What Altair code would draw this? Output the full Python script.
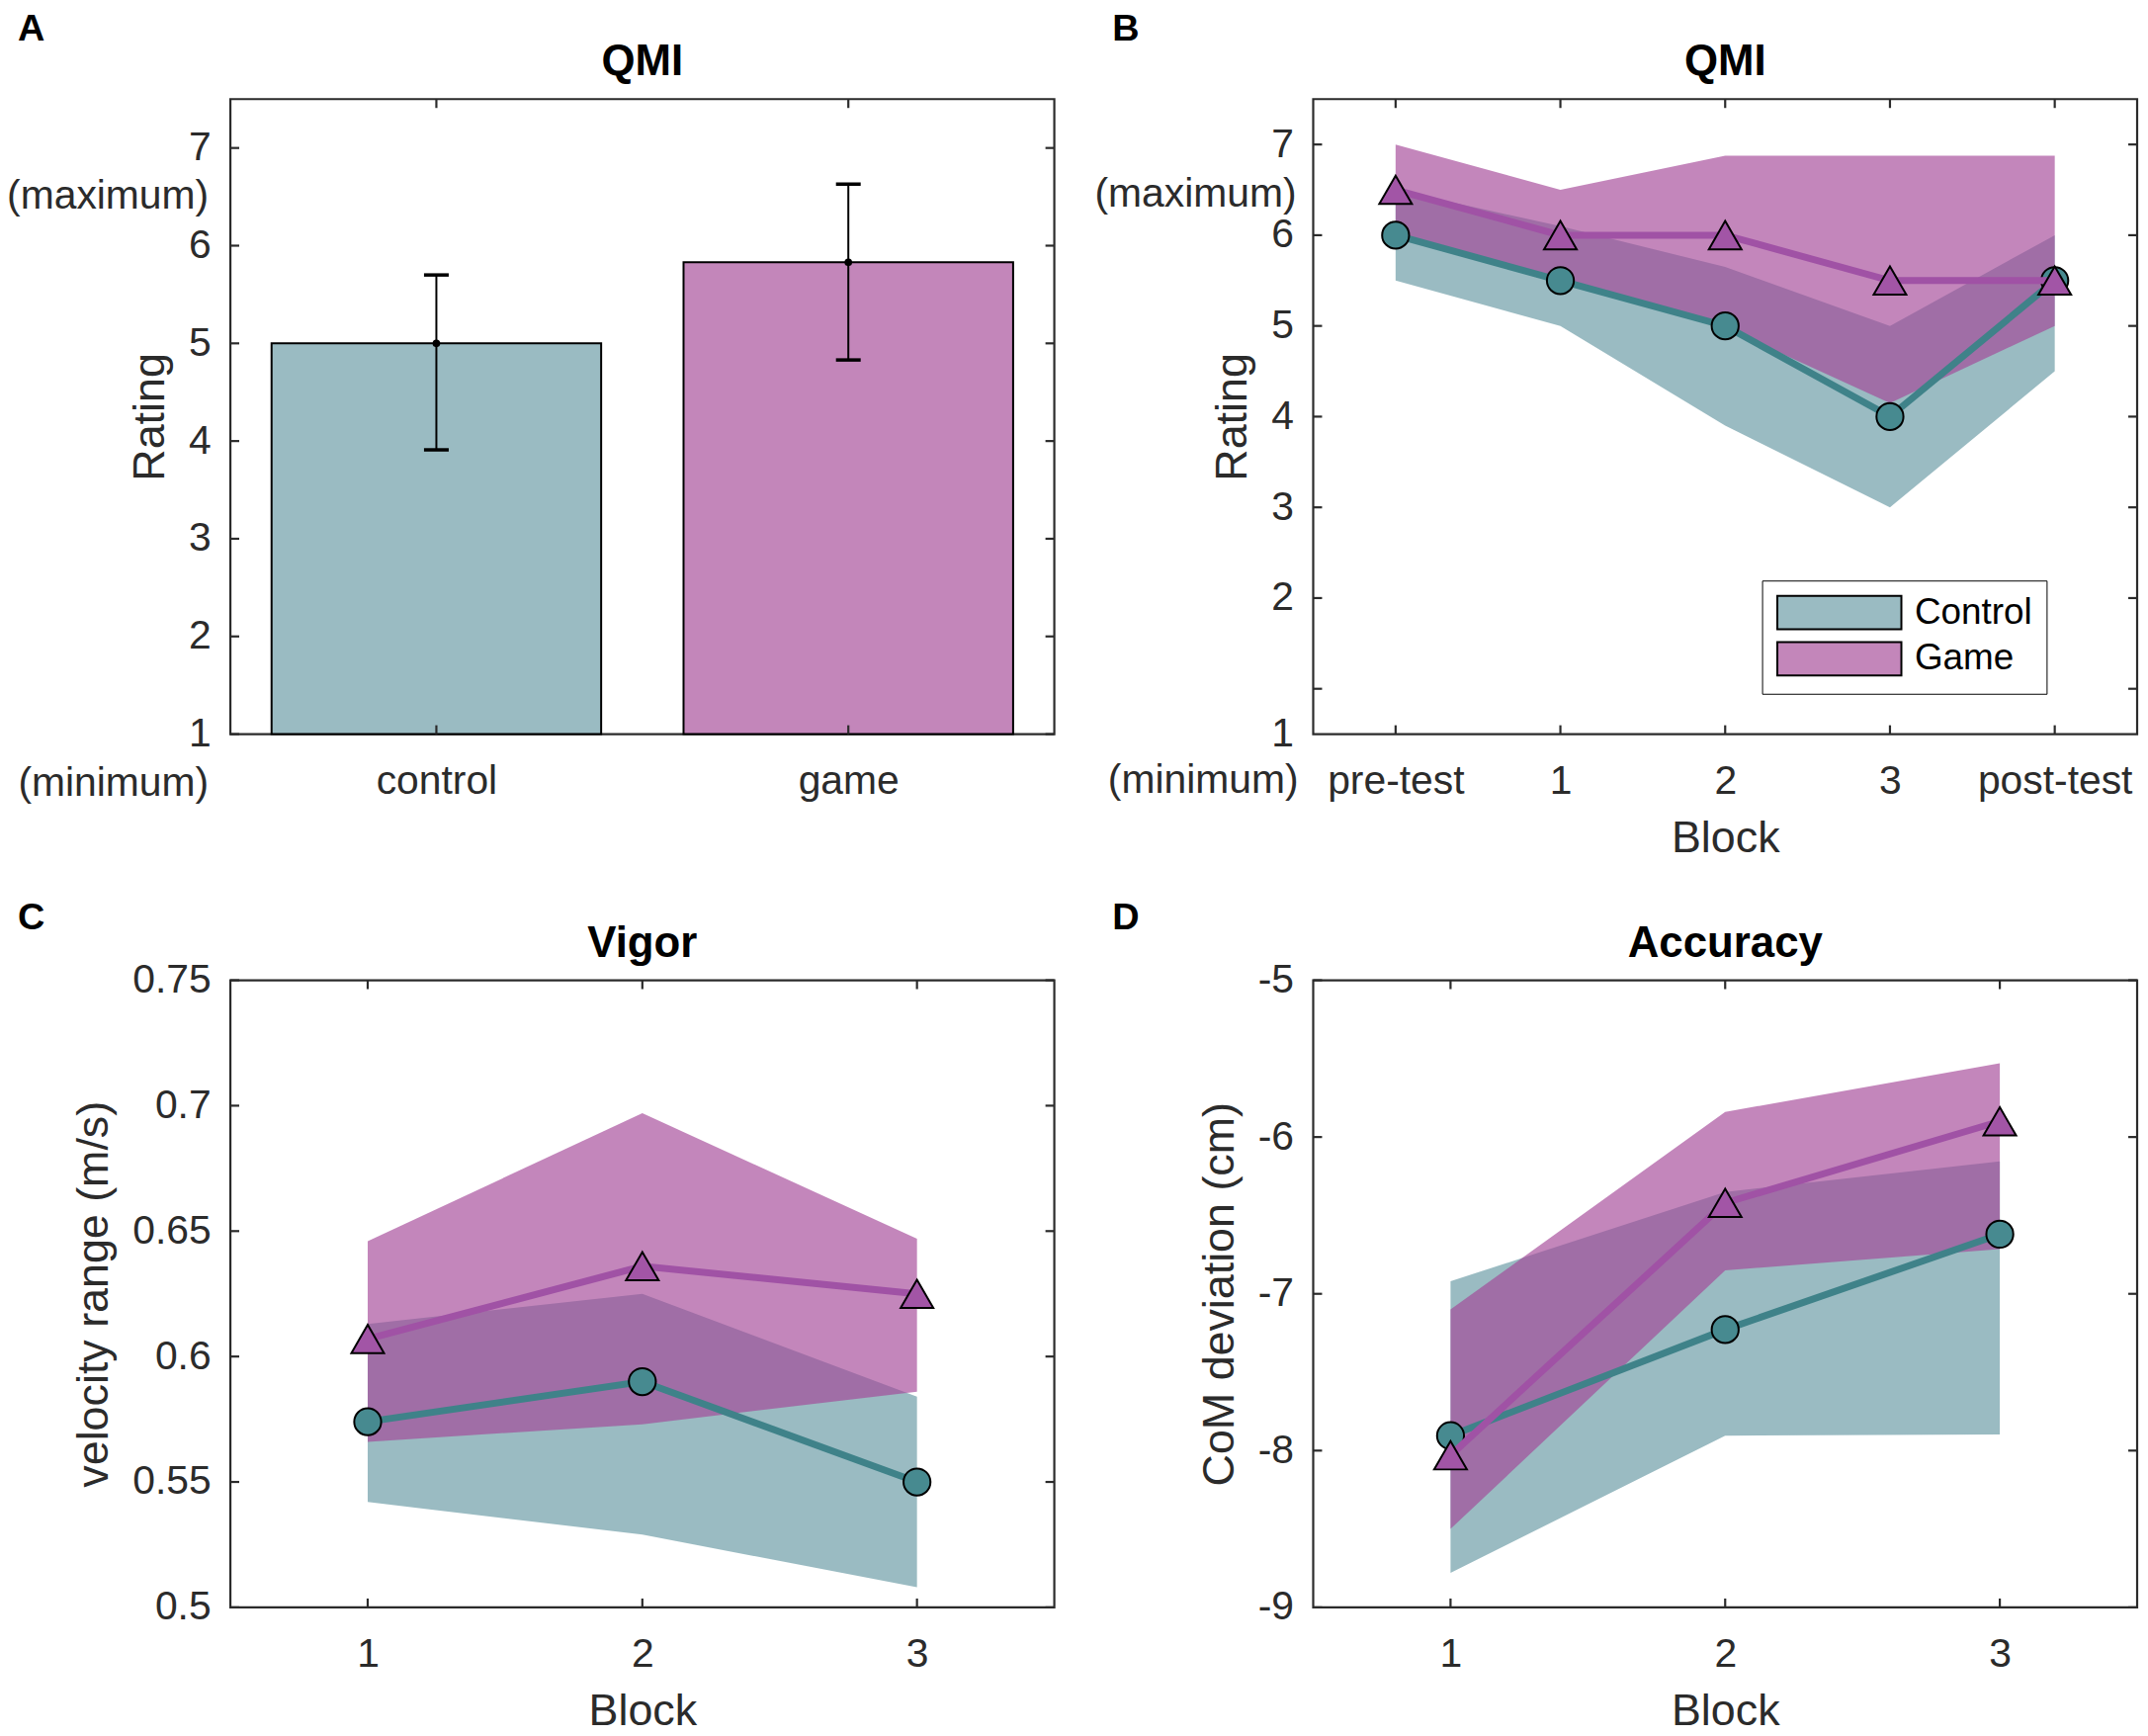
import json
import altair as alt
import pandas as pd

FONT = "Liberation Sans"
INK = "#2b2b2b"
FRAME_W = 2.2
TICK_LEN = 9
TICK_W = 2.2

# ---------------- data ----------------
groups = ["Control", "Game"]

# Panel A (QMI bar chart)
qmi_groups = ["control", "game"]
qmi_pos = [1, 2]
qmi_mean = [5.0, 5.83]
qmi_err_lo = [3.91, 4.83]
qmi_err_hi = [5.70, 6.63]
qmi_yticks = [1, 2, 3, 4, 5, 6, 7]
qmi_ylabels = ["1", "2", "3", "4", "5", "6", "7"]

# Panel B (QMI per block)
b_labels = ["pre-test", "1", "2", "3", "post-test"]
b_pos = [1, 2, 3, 4, 5]
b_ctrl_mean = [6.0, 5.5, 5.0, 4.0, 5.5]
b_ctrl_lo = [5.5, 5.0, 3.9, 3.0, 4.5]
b_ctrl_hi = [6.5, 6.1, 5.65, 5.0, 6.0]
b_game_mean = [6.5, 6.0, 6.0, 5.5, 5.5]
b_game_lo = [6.0, 5.5, 4.98, 4.15, 5.0]
b_game_hi = [7.0, 6.5, 6.875, 6.875, 6.875]
b_yticks = [1, 2, 3, 4, 5, 6, 7]
b_ylabel_pos = [0.5, 2, 3, 4, 5, 6, 7]
b_ylabels = ["1", "2", "3", "4", "5", "6", "7"]

# Panel C (Vigor)
c_labels = ["1", "2", "3"]
c_pos = [1, 2, 3]
c_ctrl_mean = [0.574, 0.590, 0.550]
c_ctrl_lo = [0.542, 0.529, 0.508]
c_ctrl_hi = [0.613, 0.625, 0.584]
c_game_mean = [0.607, 0.636, 0.625]
c_game_lo = [0.566, 0.573, 0.586]
c_game_hi = [0.646, 0.697, 0.647]
c_yticks = [0.5, 0.55, 0.6, 0.65, 0.7, 0.75]
c_ylabels = ["0.5", "0.55", "0.6", "0.65", "0.7", "0.75"]

# Panel D (Accuracy)
d_labels = ["1", "2", "3"]
d_pos = [1, 2, 3]
d_ctrl_mean = [-7.905, -7.228, -6.62]
d_ctrl_lo = [-8.78, -7.905, -7.897]
d_ctrl_hi = [-6.92, -6.35, -6.155]
d_game_mean = [-8.03, -6.42, -5.90]
d_game_lo = [-8.50, -6.85, -6.715]
d_game_hi = [-7.10, -5.84, -5.53]
d_yticks = [-9, -8, -7, -6, -5]
d_ylabels = ["-9", "-8", "-7", "-6", "-5"]

# ---------------- styles ----------------
CTRL_BAR = "#9ABBC2"
GAME_BAR = "#C386BA"
AREA_ALPHA = 0.65
CTRL_AREA = "#6496A1"
GAME_AREA = "#A34597"
CTRL_LINE = "#3F8289"
GAME_LINE = "#A052A5"
CTRL_MK = "#478A90"
GAME_MK = "#A255A6"

W = 837
H_TOP = 645
H_BOT = 637


def label_expr(positions, labels):
    return f"{json.dumps(labels)}[indexof({json.dumps(positions)}, datum.value)]"


def tick_layers(xticks, yticks, xs, xa, ys, ya, h):
    dy = pd.DataFrame({"v": yticks})
    dx = pd.DataFrame({"v": xticks})
    rule = dict(color=INK, strokeWidth=TICK_W)
    Y = alt.Y("v:Q", scale=ys, axis=ya)
    X = alt.X("v:Q", scale=xs, axis=xa)
    return [
        alt.Chart(dy).mark_rule(**rule).encode(y=Y, x=alt.value(0), x2=alt.value(TICK_LEN)),
        alt.Chart(dy).mark_rule(**rule).encode(y=Y, x=alt.value(W - TICK_LEN), x2=alt.value(W)),
        alt.Chart(dx).mark_rule(**rule).encode(x=X, y=alt.value(h), y2=alt.value(h - TICK_LEN)),
        alt.Chart(dx).mark_rule(**rule).encode(x=X, y=alt.value(0), y2=alt.value(TICK_LEN)),
    ]


def heading_layers(letter, lx, ly, title, ty):
    let = alt.Chart(pd.DataFrame({"t": [letter]})).mark_text(
        font=FONT, fontSize=38, fontWeight="bold", color="black",
        align="left", baseline="alphabetic"
    ).encode(text="t:N", x=alt.value(lx), y=alt.value(ly))
    tit = alt.Chart(pd.DataFrame({"t": [title]})).mark_text(
        font=FONT, fontSize=44, fontWeight="bold", color="black",
        align="center", baseline="alphabetic"
    ).encode(text="t:N", x=alt.value(W / 2), y=alt.value(ty))
    return [let, tit]


def minmax_layers(ys, ya, ymax_pos, max_dx, min_dy, min_dx, h):
    mx = alt.Chart(pd.DataFrame({"y": [ymax_pos], "t": ["(maximum)"]})).mark_text(
        font=FONT, fontSize=41, color=INK, align="right", baseline="middle"
    ).encode(y=alt.Y("y:Q", scale=ys, axis=ya), x=alt.value(max_dx), text="t:N")
    mn = alt.Chart(pd.DataFrame({"t": ["(minimum)"]})).mark_text(
        font=FONT, fontSize=41, color=INK, align="right", baseline="middle"
    ).encode(y=alt.value(h + min_dy), x=alt.value(min_dx), text="t:N")
    return [mx, mn]


# ---------------- panel A ----------------
dfA = pd.DataFrame({"group": qmi_groups, "pos": qmi_pos, "mean": qmi_mean,
                    "lo": qmi_err_lo, "hi": qmi_err_hi})
xsA = alt.Scale(domain=[0.5, 2.5], nice=False, zero=False)
ysA = alt.Scale(domain=[1, 7.5], nice=False, zero=False)
xaA = alt.Axis(values=qmi_pos, labelExpr=label_expr(qmi_pos, qmi_groups), title=None)
yaA = alt.Axis(values=qmi_yticks, labelExpr=label_expr(qmi_yticks, qmi_ylabels), title="Rating")

baseA = alt.Chart(dfA)
bars = baseA.transform_calculate(
    x0="datum.pos - 0.4", x1="datum.pos + 0.4", base="1"
).mark_bar(stroke="black", strokeWidth=2).encode(
    x=alt.X("x0:Q", scale=xsA, axis=xaA), x2="x1:Q",
    y=alt.Y("base:Q", scale=ysA, axis=yaA), y2="mean:Q",
    color=alt.Color("group:N", scale=alt.Scale(domain=qmi_groups, range=[CTRL_BAR, GAME_BAR]), legend=None),
)
err = baseA.mark_rule(color="black", strokeWidth=2).encode(
    x=alt.X("pos:Q", scale=xsA, axis=xaA),
    y=alt.Y("lo:Q", scale=ysA, axis=yaA), y2="hi:Q")
caps_lo = baseA.transform_calculate(c0="datum.pos - 0.03", c1="datum.pos + 0.03").mark_rule(
    color="black", strokeWidth=3.5).encode(
    x=alt.X("c0:Q", scale=xsA, axis=xaA), x2="c1:Q", y=alt.Y("lo:Q", scale=ysA, axis=yaA))
caps_hi = baseA.transform_calculate(c0="datum.pos - 0.03", c1="datum.pos + 0.03").mark_rule(
    color="black", strokeWidth=3.5).encode(
    x=alt.X("c0:Q", scale=xsA, axis=xaA), x2="c1:Q", y=alt.Y("hi:Q", scale=ysA, axis=yaA))
dots = baseA.mark_point(filled=True, color="black", size=60, opacity=1).encode(
    x=alt.X("pos:Q", scale=xsA, axis=xaA), y=alt.Y("mean:Q", scale=ysA, axis=yaA))

panelA = alt.layer(
    bars, err, caps_lo, caps_hi, dots,
    *tick_layers(qmi_pos, qmi_yticks, xsA, xaA, ysA, yaA, H_TOP),
    *minmax_layers(ysA, yaA, 6.5, -22, 51, -22, H_TOP),
    *heading_layers("A", -216, -60, "QMI", -24),
).properties(width=W, height=H_TOP)


# ---------------- line panels ----------------
def line_panel(xpos, xlabels, ctrl, game, xdom, ydom, yticks, ylabel_pos, ylabels,
               title, letter, lx, ly, ty, ytitle, h, legend=None, extra=None):
    dfc = pd.DataFrame({"x": xpos, "mean": ctrl[0], "lo": ctrl[1], "hi": ctrl[2], "group": groups[0]})
    dfg = pd.DataFrame({"x": xpos, "mean": game[0], "lo": game[1], "hi": game[2], "group": groups[1]})
    xs = alt.Scale(domain=xdom, nice=False, zero=False)
    ys = alt.Scale(domain=ydom, nice=False, zero=False)
    xa = alt.Axis(values=xpos, labelExpr=label_expr(xpos, xlabels), title="Block")
    ya = alt.Axis(values=ylabel_pos, labelExpr=label_expr(ylabel_pos, ylabels), title=ytitle)
    X = alt.X("x:Q", scale=xs, axis=xa)
    cscale = alt.Scale(domain=groups, range=[CTRL_AREA, GAME_AREA])
    color = alt.Color("group:N", scale=cscale, legend=None)

    def area(df):
        return alt.Chart(df).mark_area(strokeWidth=0, opacity=AREA_ALPHA).encode(
            x=X, y=alt.Y("lo:Q", scale=ys, axis=ya), y2="hi:Q", color=color)

    def line(df, c):
        return alt.Chart(df).mark_line(color=c, strokeWidth=7).encode(
            x=X, y=alt.Y("mean:Q", scale=ys, axis=ya))

    def pts(df, shape, fill, size):
        return alt.Chart(df).mark_point(shape=shape, filled=True, color=fill, stroke="black",
                                        strokeWidth=2, size=size, opacity=1).encode(
            x=X, y=alt.Y("mean:Q", scale=ys, axis=ya))

    layers = []
    if legend is not None:
        # legend-only layer (zero-height band): swatches show the band colours as seen on white
        dfl = pd.concat([dfc, dfg])
        layers.append(
            alt.Chart(dfl).mark_area(strokeWidth=0, opacity=1).encode(
                x=X, y=alt.Y("mean:Q", scale=ys, axis=ya), y2="mean:Q",
                fill=alt.Fill("group:N", scale=alt.Scale(domain=groups, range=[CTRL_BAR, GAME_BAR]),
                              legend=legend))
        )
    layers += [area(dfc), area(dfg),
               line(dfc, CTRL_LINE), pts(dfc, "circle", CTRL_MK, 750),
               line(dfg, GAME_LINE), pts(dfg, "triangle-up", GAME_MK, 1100)]
    layers += tick_layers(xpos, yticks, xs, xa, ys, ya, h)
    if extra is not None:
        layers += extra(ys, ya)
    layers += heading_layers(letter, lx, ly, title, ty)
    return alt.layer(*layers).properties(width=W, height=h)


legendB = alt.Legend(
    title=None, orient="none", legendX=456, legendY=489, offset=0,
    symbolType="M-3.706,-1H3.706V1H-3.706Z", symbolSize=1156,
    symbolOffset=46, labelOffset=58, symbolStrokeColor="black", symbolStrokeWidth=2,
    symbolOpacity=1, labelExpr="datum.label + ' '",
    labelFont=FONT, labelFontSize=37, labelColor="black", labelLimit=400,
    rowPadding=4, padding=14, strokeColor="black", fillColor="white",
)

panelB = line_panel(
    b_pos, b_labels, (b_ctrl_mean, b_ctrl_lo, b_ctrl_hi), (b_game_mean, b_game_lo, b_game_hi),
    [0.5, 5.5], [0.5, 7.5], b_yticks, b_ylabel_pos, b_ylabels,
    "QMI", "B", -204, -60, -24, "Rating", H_TOP, legend=legendB,
    extra=lambda ys, ya: minmax_layers(ys, ya, 6.45, -17, 48, -15, H_TOP),
)

panelC = line_panel(
    c_pos, c_labels, (c_ctrl_mean, c_ctrl_lo, c_ctrl_hi), (c_game_mean, c_game_lo, c_game_hi),
    [0.5, 3.5], [0.5, 0.75], c_yticks, c_yticks, c_ylabels,
    "Vigor", "C", -216, -52, -24, "velocity range (m/s)", H_BOT,
)

panelD = line_panel(
    d_pos, d_labels, (d_ctrl_mean, d_ctrl_lo, d_ctrl_hi), (d_game_mean, d_game_lo, d_game_hi),
    [0.5, 3.5], [-9, -5], d_yticks, d_yticks, d_ylabels,
    "Accuracy", "D", -204, -52, -24, "CoM deviation (cm)", H_BOT,
)

chart = alt.concat(
    panelA, panelB, panelC, panelD, columns=2,
    spacing={"row": 250, "column": 263}, bounds="flush",
).resolve_scale(
    x="independent", y="independent", color="independent", fill="independent"
).resolve_legend(
    color="independent", fill="independent"
).properties(
    padding={"top": -3, "left": -3, "right": 0, "bottom": 0}
).configure(
    font=FONT
).configure_view(
    stroke=INK, strokeWidth=FRAME_W
).configure_axis(
    domain=False, ticks=False, grid=False,
    labelFont=FONT, labelFontSize=41, labelColor=INK,
    titleFont=FONT, titleFontSize=45, titleFontWeight="normal", titleColor=INK,
    labelOverlap=False, labelFlush=False,
).configure_axisX(
    labelPadding=28, titlePadding=15
).configure_axisY(
    labelPadding=20, titlePadding=16
)

chart.save("out.html", embed_options={"renderer": "svg", "actions": False})
